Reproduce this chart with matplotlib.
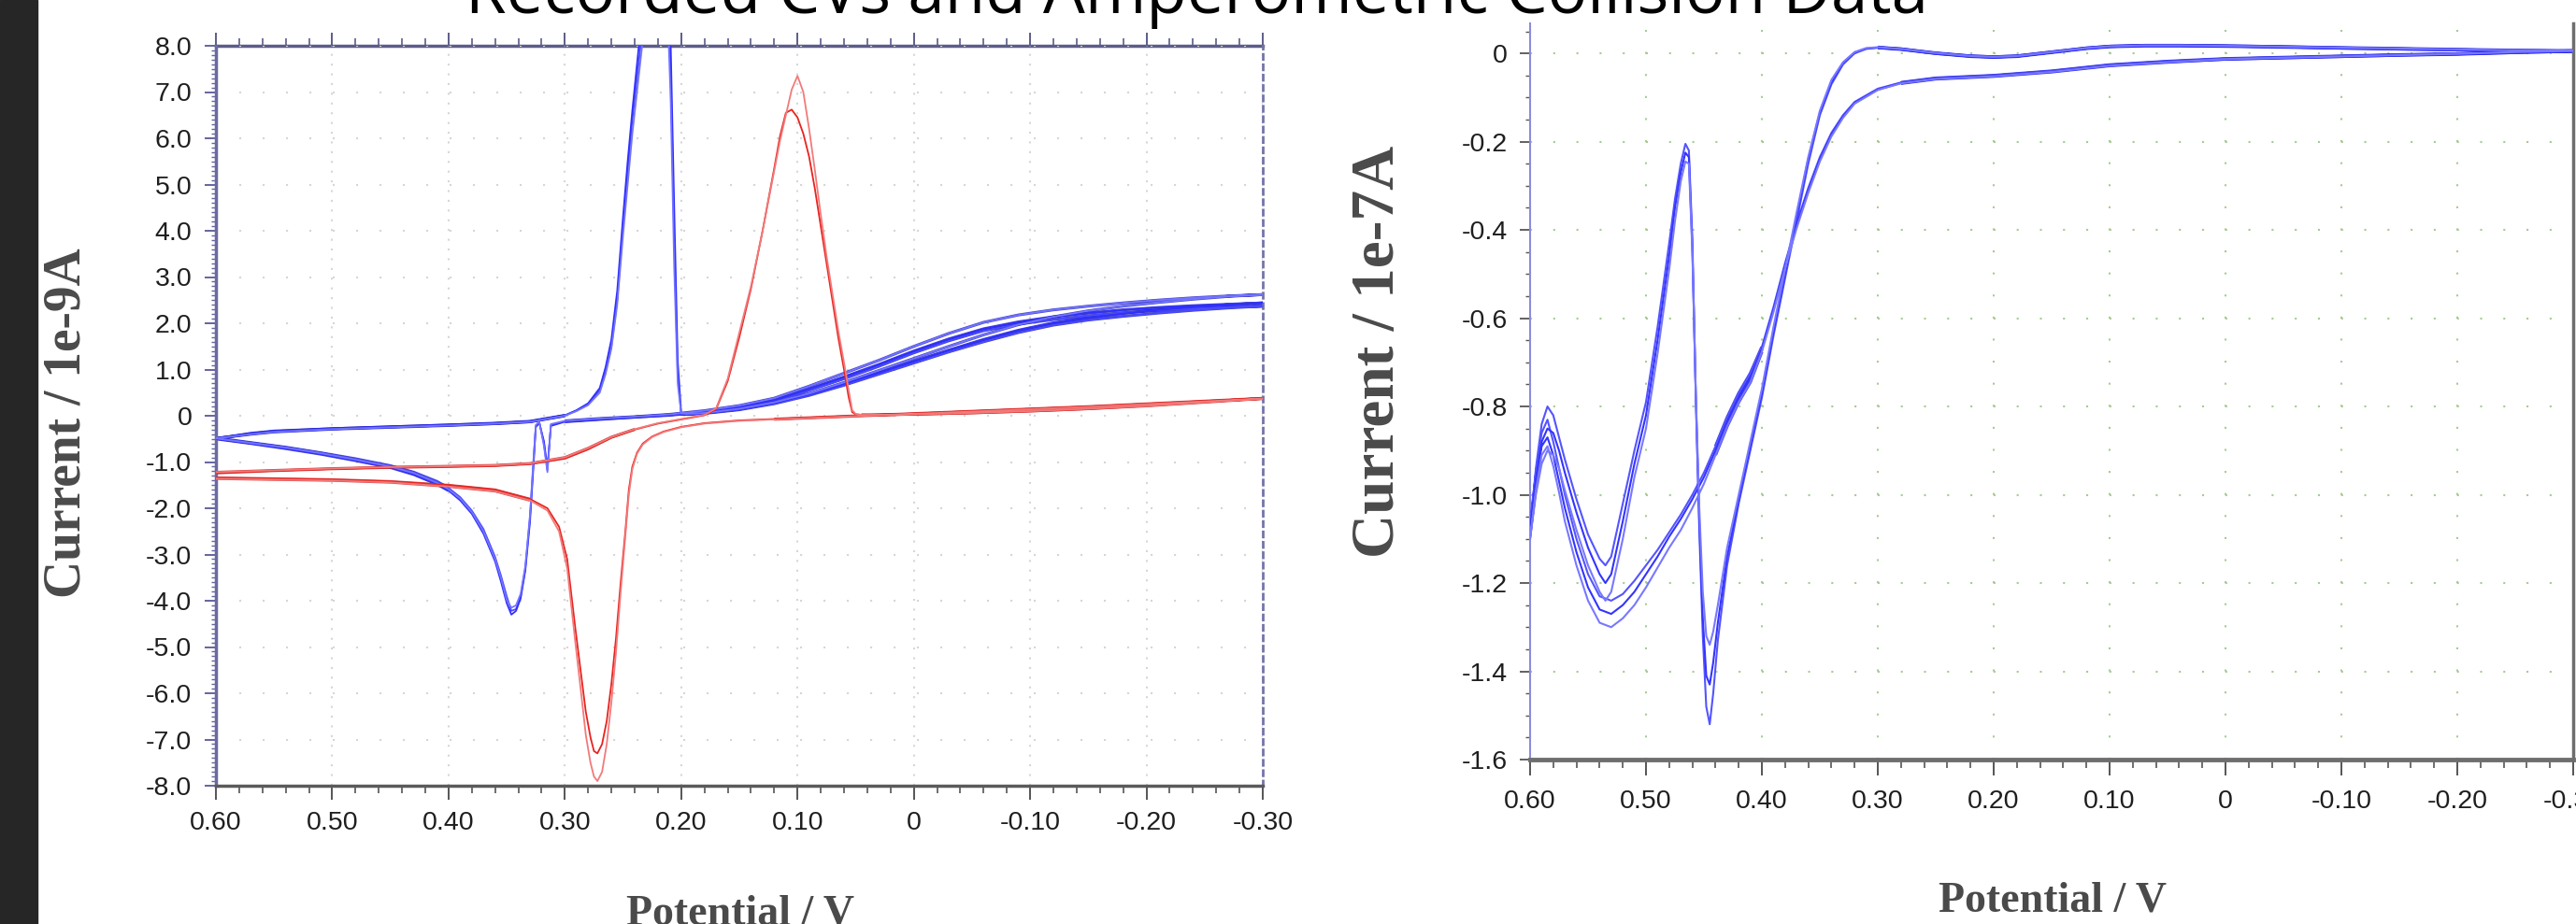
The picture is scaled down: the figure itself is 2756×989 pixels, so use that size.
import matplotlib
matplotlib.use('Agg')
import matplotlib.pyplot as plt
from matplotlib import font_manager
from matplotlib.ticker import MultipleLocator, FuncFormatter, NullFormatter
from matplotlib.patches import Rectangle


# ---- left panel: CVs, current in 1e-9 A ----
# blue cycles, scan from 0.60 V towards -0.30 V
lb_fwd_x = [0.60, 0.57, 0.54, 0.51, 0.48, 0.45, 0.43, 0.41, 0.40, 0.39,
            0.38, 0.37, 0.36, 0.355, 0.35, 0.346, 0.342, 0.338, 0.334, 0.330,
            0.327, 0.325, 0.322, 0.318, 0.315, 0.312, 0.30, 0.27, 0.24, 0.21,
            0.18, 0.15, 0.12, 0.09, 0.06, 0.03, 0.00, -0.03, -0.06, -0.09,
            -0.12, -0.15, -0.18, -0.21, -0.24, -0.27, -0.30]
lb_fwd_1 = [-0.48, -0.58, -0.68, -0.80, -0.93, -1.08, -1.22, -1.42, -1.56, -1.76,
            -2.05, -2.45, -3.05, -3.45, -3.90, -4.22, -4.18, -3.90, -3.30, -2.20,
            -1.00, -0.22, -0.14, -0.60, -1.18, -0.20, -0.12, -0.07, -0.03, 0.01,
            0.08, 0.17, 0.30, 0.55, 0.80, 1.07, 1.36, 1.62, 1.84, 1.98,
            2.08, 2.16, 2.23, 2.28, 2.32, 2.35, 2.37]
lb_fwd_2 = [-0.50, -0.60, -0.71, -0.83, -0.97, -1.12, -1.27, -1.48, -1.62, -1.83,
            -2.12, -2.55, -3.15, -3.58, -4.05, -4.30, -4.22, -3.95, -3.35, -2.30,
            -1.10, -0.25, -0.15, -0.55, -1.12, -0.22, -0.13, -0.08, -0.03, 0.02,
            0.09, 0.19, 0.33, 0.58, 0.84, 1.11, 1.40, 1.66, 1.88, 2.03,
            2.14, 2.22, 2.29, 2.34, 2.38, 2.41, 2.44]
lb_fwd_3 = [-0.49, -0.59, -0.69, -0.81, -0.95, -1.10, -1.24, -1.45, -1.59, -1.79,
            -2.08, -2.50, -3.10, -3.50, -3.98, -4.15, -4.10, -3.85, -3.25, -2.15,
            -0.95, -0.20, -0.13, -0.65, -1.22, -0.18, -0.11, -0.06, -0.02, 0.03,
            0.11, 0.22, 0.38, 0.64, 0.92, 1.20, 1.50, 1.78, 2.02, 2.18,
            2.29, 2.37, 2.44, 2.50, 2.55, 2.59, 2.62]

# blue cycles, return scan from -0.30 V back to 0.60 V
lb_rev_x = [-0.30, -0.27, -0.24, -0.21, -0.18, -0.15, -0.12, -0.09, -0.06, -0.03,
            0.00, 0.03, 0.06, 0.09, 0.12, 0.15, 0.18, 0.195, 0.200, 0.203,
            0.206, 0.209, 0.212, 0.220, 0.228, 0.234, 0.238, 0.242, 0.246, 0.250,
            0.255, 0.260, 0.265, 0.270, 0.280, 0.290, 0.300, 0.33, 0.36, 0.40,
            0.45, 0.50, 0.55, 0.57, 0.60]
lb_rev_1 = [2.37, 2.33, 2.28, 2.22, 2.15, 2.07, 1.96, 1.80, 1.60, 1.38,
            1.14, 0.90, 0.66, 0.44, 0.26, 0.13, 0.05, 0.03, 0.04, 0.90,
            3.80, 7.40, 9.50, 10.50, 9.60, 8.20, 7.30, 6.40, 5.30, 4.10,
            2.50, 1.50, 0.95, 0.55, 0.25, 0.11, 0.00, -0.13, -0.17, -0.20,
            -0.24, -0.28, -0.34, -0.39, -0.49]
lb_rev_2 = [2.44, 2.40, 2.35, 2.29, 2.21, 2.12, 2.01, 1.85, 1.65, 1.42,
            1.18, 0.93, 0.69, 0.46, 0.28, 0.14, 0.06, 0.03, 0.05, 1.20,
            4.50, 8.00, 10.00, 11.00, 10.20, 8.60, 7.60, 6.60, 5.50, 4.30,
            2.70, 1.65, 1.05, 0.60, 0.27, 0.12, 0.01, -0.12, -0.16, -0.20,
            -0.24, -0.28, -0.33, -0.38, -0.50]
lb_rev_3 = [2.62, 2.58, 2.52, 2.45, 2.37, 2.27, 2.14, 1.97, 1.75, 1.50,
            1.24, 0.98, 0.72, 0.48, 0.29, 0.15, 0.06, 0.04, 0.05, 0.70,
            3.20, 6.80, 9.00, 10.00, 9.30, 7.90, 7.00, 6.10, 5.00, 3.90,
            2.40, 1.45, 0.90, 0.50, 0.23, 0.10, 0.00, -0.13, -0.17, -0.21,
            -0.25, -0.29, -0.35, -0.40, -0.49]

# red cycles
lr_fwd_x = [0.60, 0.55, 0.50, 0.45, 0.40, 0.36, 0.33, 0.315, 0.305, 0.298,
            0.291, 0.286, 0.282, 0.278, 0.275, 0.272, 0.268, 0.264, 0.260, 0.256,
            0.252, 0.248, 0.245, 0.242, 0.238, 0.233, 0.225, 0.215, 0.20, 0.18,
            0.15, 0.12, 0.09, 0.05, 0.00, -0.05, -0.10, -0.15, -0.20, -0.25,
            -0.30]
lr_fwd_a = [-1.34, -1.36, -1.38, -1.42, -1.50, -1.60, -1.80, -2.00, -2.40, -3.10,
            -4.60, -5.60, -6.40, -6.95, -7.25, -7.30, -7.10, -6.60, -5.80, -4.80,
            -3.60, -2.50, -1.60, -1.10, -0.80, -0.60, -0.45, -0.34, -0.24, -0.16,
            -0.10, -0.07, -0.04, 0.00, 0.05, 0.10, 0.15, 0.20, 0.26, 0.32,
            0.38]
lr_fwd_b = [-1.36, -1.38, -1.40, -1.44, -1.53, -1.63, -1.83, -2.05, -2.50, -3.30,
            -4.90, -6.00, -6.90, -7.50, -7.80, -7.90, -7.70, -7.10, -6.20, -5.10,
            -3.80, -2.60, -1.70, -1.15, -0.82, -0.62, -0.46, -0.35, -0.25, -0.17,
            -0.11, -0.08, -0.05, -0.01, 0.04, 0.09, 0.14, 0.19, 0.25, 0.31,
            0.37]
lr_rev_x = [-0.30, -0.25, -0.20, -0.15, -0.10, -0.05, 0.00, 0.03, 0.045, 0.050,
            0.053, 0.056, 0.060, 0.065, 0.070, 0.075, 0.080, 0.085, 0.090, 0.095,
            0.100, 0.105, 0.110, 0.115, 0.120, 0.130, 0.140, 0.150, 0.160, 0.170,
            0.180, 0.20, 0.22, 0.24, 0.26, 0.28, 0.30, 0.33, 0.36, 0.40,
            0.45, 0.50, 0.55, 0.60]
lr_rev_a = [0.38, 0.30, 0.22, 0.15, 0.10, 0.06, 0.03, 0.02, 0.02, 0.03,
            0.08, 0.40, 1.00, 1.70, 2.50, 3.30, 4.10, 4.90, 5.60, 6.10,
            6.45, 6.62, 6.55, 6.05, 5.35, 4.00, 2.75, 1.70, 0.75, 0.14,
            0.01, -0.08, -0.17, -0.30, -0.47, -0.72, -0.92, -1.04, -1.08, -1.10,
            -1.12, -1.15, -1.19, -1.24]
lr_rev_b = [0.37, 0.29, 0.21, 0.15, 0.10, 0.06, 0.03, 0.02, 0.02, 0.04,
            0.12, 0.55, 1.15, 1.85, 2.65, 3.45, 4.35, 5.30, 6.20, 7.00,
            7.35, 7.05, 6.50, 5.95, 5.30, 4.00, 2.80, 1.80, 0.80, 0.16,
            0.02, -0.07, -0.16, -0.29, -0.46, -0.70, -0.90, -1.03, -1.07, -1.09,
            -1.11, -1.14, -1.18, -1.22]

# ---- right panel: CVs, current in 1e-7 A ----
rb_fwd_x = [0.600, 0.595, 0.590, 0.585, 0.580, 0.575, 0.570, 0.560, 0.550, 0.540,
            0.535, 0.530, 0.520, 0.510, 0.500, 0.490, 0.480, 0.475, 0.470, 0.466,
            0.463, 0.460, 0.457, 0.454, 0.451, 0.448, 0.445, 0.442, 0.438, 0.430,
            0.420, 0.410, 0.400, 0.390, 0.380, 0.370, 0.360, 0.350, 0.340, 0.330,
            0.320, 0.310, 0.300, 0.280, 0.250, 0.220, 0.200, 0.180, 0.150, 0.120,
            0.100, 0.070, 0.040, 0.000, -0.050, -0.100, -0.150, -0.200, -0.250, -0.300]
rb_fwd_1 = [-1.08, -0.94, -0.84, -0.80, -0.82, -0.87, -0.92, -1.01, -1.09, -1.145,
            -1.16, -1.14, -1.02, -0.90, -0.79, -0.62, -0.43, -0.33, -0.25, -0.205,
            -0.22, -0.42, -0.78, -1.08, -1.32, -1.48, -1.52, -1.45, -1.33, -1.16,
            -1.02, -0.90, -0.78, -0.64, -0.51, -0.38, -0.25, -0.14, -0.07, -0.025,
            0.000, 0.010, 0.013, 0.010, 0.000, -0.006, -0.008, -0.006, 0.003, 0.012,
            0.016, 0.018, 0.018, 0.017, 0.015, 0.012, 0.010, 0.008, 0.006, 0.005]
rb_fwd_2 = [-1.09, -0.97, -0.88, -0.85, -0.86, -0.90, -0.95, -1.04, -1.12, -1.18,
            -1.20, -1.18, -1.06, -0.93, -0.82, -0.65, -0.46, -0.35, -0.27, -0.225,
            -0.235, -0.44, -0.78, -1.06, -1.28, -1.41, -1.43, -1.38, -1.29, -1.14,
            -1.01, -0.89, -0.77, -0.63, -0.50, -0.37, -0.24, -0.135, -0.065, -0.022,
            0.002, 0.011, 0.013, 0.009, 0.000, -0.007, -0.009, -0.007, 0.002, 0.011,
            0.015, 0.017, 0.017, 0.016, 0.014, 0.012, 0.010, 0.008, 0.006, 0.005]
rb_fwd_3 = [-1.10, -1.00, -0.93, -0.90, -0.91, -0.94, -0.99, -1.08, -1.16, -1.22,
            -1.24, -1.22, -1.10, -0.96, -0.85, -0.68, -0.49, -0.38, -0.29, -0.245,
            -0.25, -0.45, -0.77, -1.03, -1.22, -1.32, -1.34, -1.31, -1.25, -1.12,
            -1.00, -0.88, -0.76, -0.62, -0.49, -0.36, -0.235, -0.13, -0.06, -0.02,
            0.003, 0.012, 0.014, 0.010, 0.001, -0.006, -0.008, -0.006, 0.003, 0.012,
            0.016, 0.018, 0.018, 0.017, 0.015, 0.013, 0.011, 0.009, 0.007, 0.006]
rb_rev_x = [-0.30, -0.25, -0.20, -0.15, -0.10, -0.05, 0.00, 0.05, 0.10, 0.15,
            0.20, 0.25, 0.28, 0.30, 0.32, 0.33, 0.34, 0.35, 0.36, 0.37,
            0.38, 0.39, 0.40, 0.41, 0.42, 0.43, 0.44, 0.45, 0.46, 0.47,
            0.48, 0.49, 0.50, 0.51, 0.52, 0.53, 0.54, 0.55, 0.56, 0.57,
            0.575, 0.58, 0.585, 0.59, 0.595, 0.60]
rb_rev_1 = [0.005, 0.002, -0.001, -0.003, -0.006, -0.009, -0.012, -0.018, -0.026, -0.040,
            -0.050, -0.056, -0.066, -0.080, -0.110, -0.140, -0.180, -0.235, -0.305, -0.385,
            -0.475, -0.575, -0.665, -0.725, -0.770, -0.825, -0.890, -0.950, -1.000, -1.045,
            -1.085, -1.125, -1.160, -1.195, -1.225, -1.240, -1.230, -1.180, -1.100, -1.000,
            -0.940, -0.880, -0.830, -0.860, -0.950, -1.060]
rb_rev_2 = [0.005, 0.002, -0.002, -0.004, -0.007, -0.010, -0.013, -0.019, -0.027, -0.041,
            -0.051, -0.057, -0.067, -0.082, -0.112, -0.143, -0.184, -0.240, -0.310, -0.390,
            -0.480, -0.580, -0.670, -0.735, -0.780, -0.835, -0.900, -0.960, -1.010, -1.055,
            -1.095, -1.140, -1.180, -1.220, -1.250, -1.270, -1.260, -1.210, -1.130, -1.030,
            -0.970, -0.910, -0.870, -0.890, -0.970, -1.080]
rb_rev_3 = [0.006, 0.003, -0.001, -0.004, -0.007, -0.010, -0.013, -0.020, -0.028, -0.042,
            -0.052, -0.058, -0.068, -0.083, -0.114, -0.146, -0.188, -0.245, -0.316, -0.396,
            -0.486, -0.586, -0.676, -0.745, -0.790, -0.845, -0.910, -0.975, -1.030, -1.080,
            -1.120, -1.165, -1.210, -1.250, -1.280, -1.300, -1.290, -1.240, -1.160, -1.060,
            -0.995, -0.935, -0.890, -0.910, -0.990, -1.100]

title = 'Recorded CVs and Amperometric Collision Data'
xlabel = 'Potential / V'
ylabel_left = 'Current / 1e-9A'
ylabel_right = 'Current / 1e-7A'


def pick_font(names):
    for name in names:
        try:
            font_manager.findfont(font_manager.FontProperties(family=name),
                                  fallback_to_default=False)
            return name
        except ValueError:
            pass
    return 'DejaVu Sans'


tick_font = pick_font(['Liberation Sans Narrow', 'Liberation Sans'])
tick_size = 25 if 'Narrow' in tick_font else 20.5
plt.rcParams['font.family'] = tick_font


def zero_fmt(nd):
    return FuncFormatter(lambda v, p: '0' if abs(v) < 1e-9 else f'{v:.{nd}f}')


def draw_loop(ax, fx, fy, rx, ry, color, lw, slow, dark, dark_lw):
    # full sweep thin, slowly varying stretches heavier (densely sampled there)
    ax.plot(fx + rx, fy + ry, color=color, lw=lw, zorder=3)
    xs, ys = fx + rx, fy + ry
    for a, b in slow:
        ax.plot(xs[a:b], ys[a:b], color=dark, lw=dark_lw, alpha=0.8, zorder=2,
                solid_capstyle='butt')


W, H = 2756, 989
fig = plt.figure(figsize=(W / 100, H / 100), dpi=100, facecolor='white')

# dark strip along the left edge
fig.add_artist(Rectangle((0, 0), 40 / W, 1, transform=fig.transFigure,
                         color='#262626', zorder=0))

ax1 = fig.add_axes([231 / W, 1 - 841 / H, 1120 / W, 792 / H])
ax2 = fig.add_axes([1637 / W, 1 - 813 / H, 1116 / W, 788 / H])

# ---------------- left panel ----------------
nf = len(lb_fwd_x)
blue_slow = [(0, 9), (26, nf + 19), (nf + 36, nf + len(lb_rev_x))]
blue_cols = ['#4a4aff', '#3030ff', '#7474ff']
for fy, ry, c in zip([lb_fwd_1, lb_fwd_2, lb_fwd_3],
                     [lb_rev_1, lb_rev_2, lb_rev_3], blue_cols):
    draw_loop(ax1, lb_fwd_x, fy, lb_rev_x, ry, c, 1.3, blue_slow, '#1818c0', 2.2)

nf = len(lr_fwd_x)
red_slow = [(0, 7), (31, nf + 9), (nf + 33, nf + len(lr_rev_x))]
red_cols = ['#e8231f', '#f27a7a']
for fy, ry, c in zip([lr_fwd_a, lr_fwd_b], [lr_rev_a, lr_rev_b], red_cols):
    draw_loop(ax1, lr_fwd_x, fy, lr_rev_x, ry, c, 1.3, red_slow, '#c81c1c', 2.0)

ax1.set_xlim(0.6, -0.3)
ax1.set_ylim(-8, 8)
ax1.xaxis.set_major_locator(MultipleLocator(0.1))
ax1.xaxis.set_minor_locator(MultipleLocator(0.02))
ax1.yaxis.set_major_locator(MultipleLocator(1.0))
ax1.yaxis.set_minor_locator(MultipleLocator(0.1))
ax1.xaxis.set_major_formatter(zero_fmt(2))
ax1.yaxis.set_major_formatter(zero_fmt(1))
ax1.set_axisbelow(True)
ax1.grid(which='major', axis='x', color='#d6d6d6', lw=1.5, linestyle=(0, (1, 4)))
ax1.grid(which='major', axis='y', color='#d6d6d6', lw=1.5, linestyle=(0, (1, 11)))

ax1.tick_params(axis='x', which='major', direction='out', length=10.5, width=1.4,
                color='#555555', pad=9, labelsize=tick_size, labelcolor='#1e1e1e')
ax1.tick_params(axis='x', which='minor', direction='out', length=5.5, width=1.2,
                color='#555555')
ax1.tick_params(axis='y', which='major', direction='out', length=9, width=1.4,
                color='#6464a0', pad=9.5, labelsize=tick_size, labelcolor='#1e1e1e')
ax1.tick_params(axis='y', which='minor', direction='out', length=3.5, width=1.0,
                color='#6464a0')

ax1.spines['bottom'].set_color('#5a5a5a')
ax1.spines['bottom'].set_linewidth(2.5)
ax1.spines['left'].set_color('#6a6aa0')
ax1.spines['left'].set_linewidth(2.5)
ax1.spines['right'].set_color('#7474a8')
ax1.spines['right'].set_linewidth(2.0)
ax1.spines['right'].set_linestyle((0, (2, 2)))
ax1.spines['top'].set_visible(False)

# tick ruler along the top edge
top1 = ax1.secondary_xaxis('top')
top1.xaxis.set_major_locator(MultipleLocator(0.1))
top1.xaxis.set_minor_locator(MultipleLocator(0.02))
top1.xaxis.set_major_formatter(NullFormatter())
top1.tick_params(which='major', direction='out', length=10, width=1.4, color='#5c5c8a')
top1.tick_params(which='minor', direction='out', length=5.5, width=1.2, color='#5c5c8a')
top1.spines['top'].set_color('#5c5c8a')
top1.spines['top'].set_linewidth(2.5)

# ---------------- right panel ----------------
nf = len(rb_fwd_x)
rb_slow = [(42, nf + 13), (nf + 22, nf + 27)]
rb_cols = ['#5454ff', '#3434ff', '#7878ff']
for fy, ry, c in zip([rb_fwd_1, rb_fwd_2, rb_fwd_3],
                     [rb_rev_1, rb_rev_2, rb_rev_3], rb_cols):
    draw_loop(ax2, rb_fwd_x, fy, rb_rev_x, ry, c, 1.5, rb_slow, '#1a1ae0', 2.4)

ax2.set_xlim(0.6, -0.3)
ax2.set_ylim(-1.6, 0.068)
ax2.xaxis.set_major_locator(MultipleLocator(0.1))
ax2.xaxis.set_minor_locator(MultipleLocator(0.02))
ax2.yaxis.set_major_locator(MultipleLocator(0.2))
ax2.yaxis.set_minor_locator(MultipleLocator(0.05))
ax2.xaxis.set_major_formatter(zero_fmt(2))
ax2.yaxis.set_major_formatter(zero_fmt(1))
ax2.set_axisbelow(True)
ax2.grid(which='major', axis='x', color='#a6cc90', lw=1.5, linestyle=(0, (1, 10.33)))
ax2.grid(which='major', axis='y', color='#a6cc90', lw=1.5, linestyle=(0, (1, 10.9)))

ax2.tick_params(axis='x', which='major', direction='out', length=12, width=1.4,
                color='#555555', pad=11, labelsize=tick_size, labelcolor='#1e1e1e')
ax2.tick_params(axis='x', which='minor', direction='out', length=6.5, width=1.2,
                color='#555555')
ax2.tick_params(axis='y', which='major', direction='out', length=8, width=1.3,
                color='#555555', pad=9.4, labelsize=tick_size, labelcolor='#1e1e1e')
ax2.tick_params(axis='y', which='minor', direction='out', length=3.6, width=1.0,
                color='#555555')

ax2.spines['top'].set_visible(False)
ax2.spines['left'].set_color('#8c8cdc')
ax2.spines['left'].set_linewidth(1.5)
ax2.spines['bottom'].set_color('#6e6e6e')
ax2.spines['bottom'].set_linewidth(3.5)
ax2.spines['right'].set_color('#6e6e6e')
ax2.spines['right'].set_linewidth(2.5)

# ---------------- texts ----------------
fig.text(1280 / W, 1 - 14 / H, title, ha='center', va='baseline',
         fontsize=51, family='Open Sans', color='black')

lab = dict(family='Liberation Serif', fontweight='bold', color='#4a4a4a')
fig.text(792 / W, 1 - 958 / H, xlabel, ha='center', va='top', fontsize=33, **lab)
fig.text(2196 / W, 1 - 944 / H, xlabel, ha='center', va='top', fontsize=33, **lab)
fig.text(72 / W, 1 - 453 / H, ylabel_left, ha='center', va='center',
         rotation=90, fontsize=40, **lab)
fig.text(1475 / W, 1 - 376 / H, ylabel_right, ha='center', va='center',
         rotation=90, fontsize=47, **lab)

fig.savefig('out.png', dpi=100, facecolor='white')
